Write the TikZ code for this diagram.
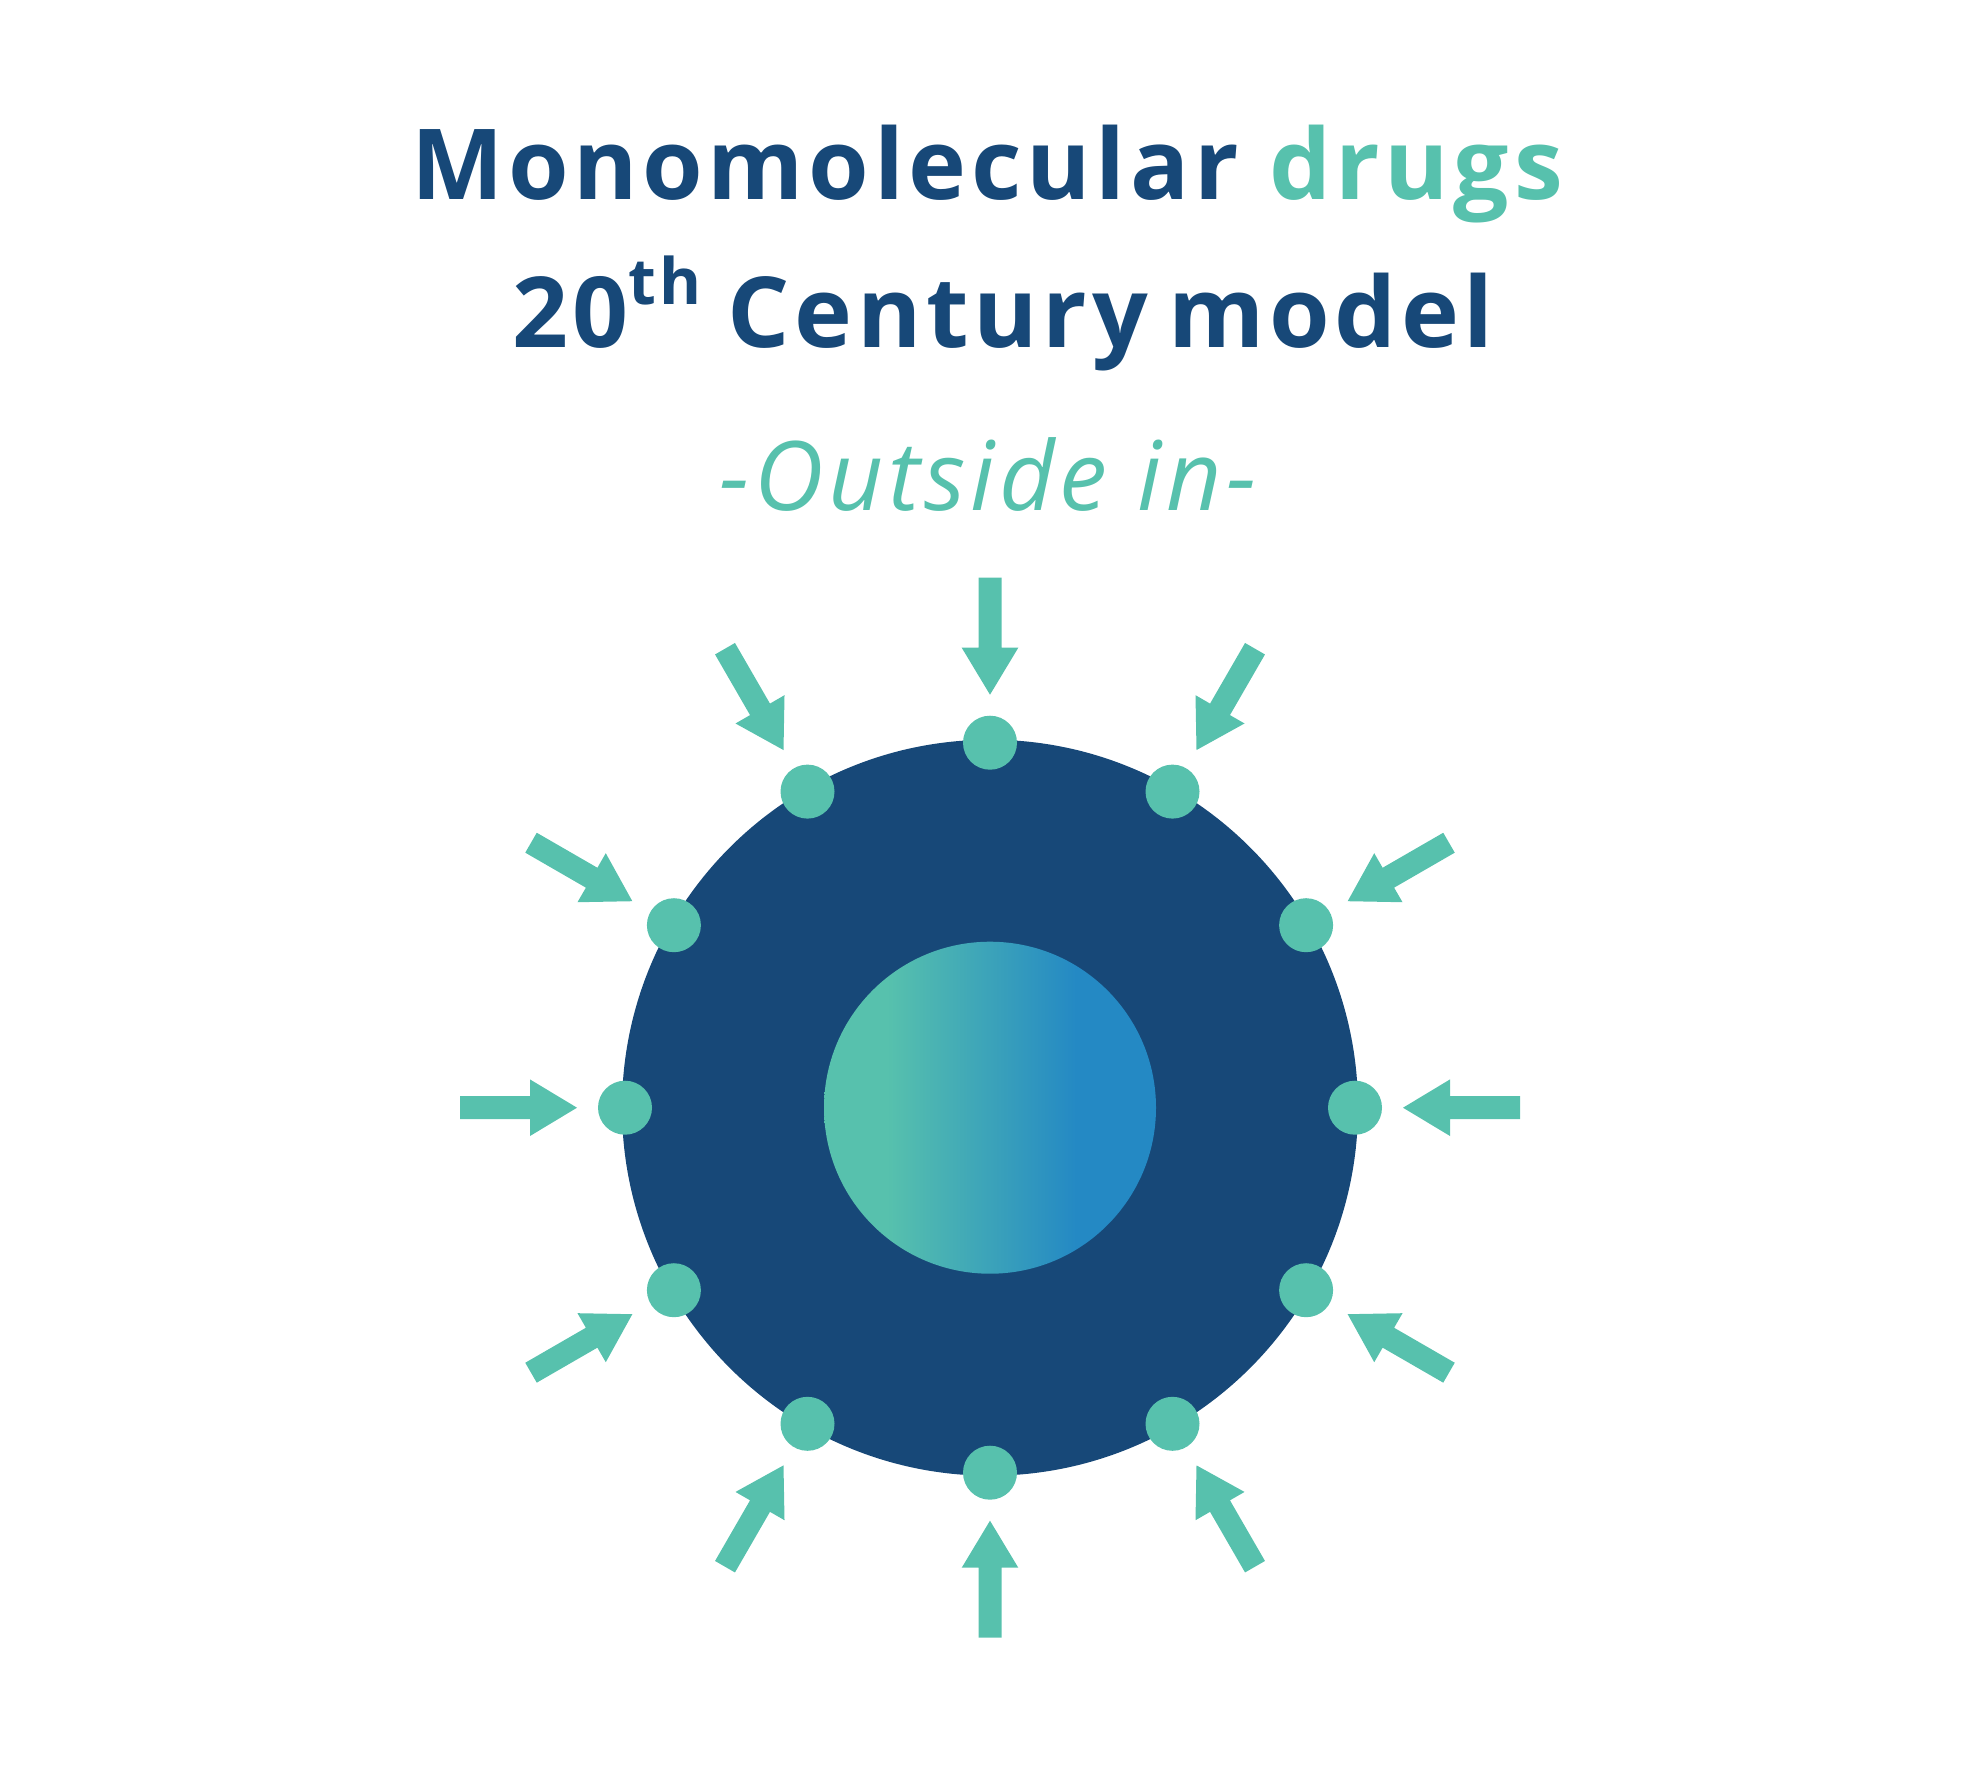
\documentclass[tikz,border=0pt]{standalone}
\usepackage{fontspec}
\setmainfont{Open Sans}
\newfontfamily\titlefam[LetterSpace=4.8]{Open Sans}
\newfontfamily\subfam[LetterSpace=4.9]{Open Sans}
\definecolor{navy}{RGB}{23,72,120}
\definecolor{mint}{RGB}{87,193,173}
\definecolor{sky}{RGB}{36,137,196}
\pgfdeclarehorizontalshading{coreshade}{100bp}{color(0bp)=(mint); color(34.5bp)=(mint); color(63bp)=(sky); color(100bp)=(sky)}
\tikzset{
  titletext/.style={anchor=base, inner sep=0pt, text=navy, font=\titlefam\bfseries\fontsize{49pt}{49pt}\selectfont},
  subtext/.style={anchor=base, inner sep=0pt, text=mint, font=\subfam\itshape\fontsize{48pt}{48pt}\selectfont},
  cellbody/.style={circle, fill=navy, inner sep=0pt, minimum size=368pt},
  corebody/.style={circle, shading=coreshade, inner sep=0pt, minimum size=166pt},
  dotbody/.style={circle, fill=mint, inner sep=0pt, minimum size=27pt},
  inarrow/.style={fill=mint}
}
\begin{document}
\begin{tikzpicture}[x=0.5pt, y=-0.5pt]
\useasboundingbox (0,0) rectangle (1980,1782);
\node[titletext] (line1) at (987,199) {Monomolecular \textcolor{mint}{drugs}};
\node[titletext] (line2) at (1003,347.7) {20\raisebox{21.8pt}{\fontsize{32pt}{32pt}\selectfont th}\kern-2pt{} Century\kern-5pt{} model};
\node[subtext] (line3) at (988,510) {-Outside in-};
\node[cellbody] (cell) at (990,1107.7) {};
\node[corebody] (core) at (cell.center) {};
\begin{scope}[shift={(990,1107.7)}]
\foreach \a [count=\i] in {0,30,...,330}{
  \node[dotbody] (dot\i) at (\a:365) {};
  \fill[inarrow, rotate=\a] (530,-11.5) -- (460,-11.5) -- (460,-28.3) -- (413,0) -- (460,28.3) -- (460,11.5) -- (530,11.5) -- cycle;
}
\end{scope}
\end{tikzpicture}
\end{document}
